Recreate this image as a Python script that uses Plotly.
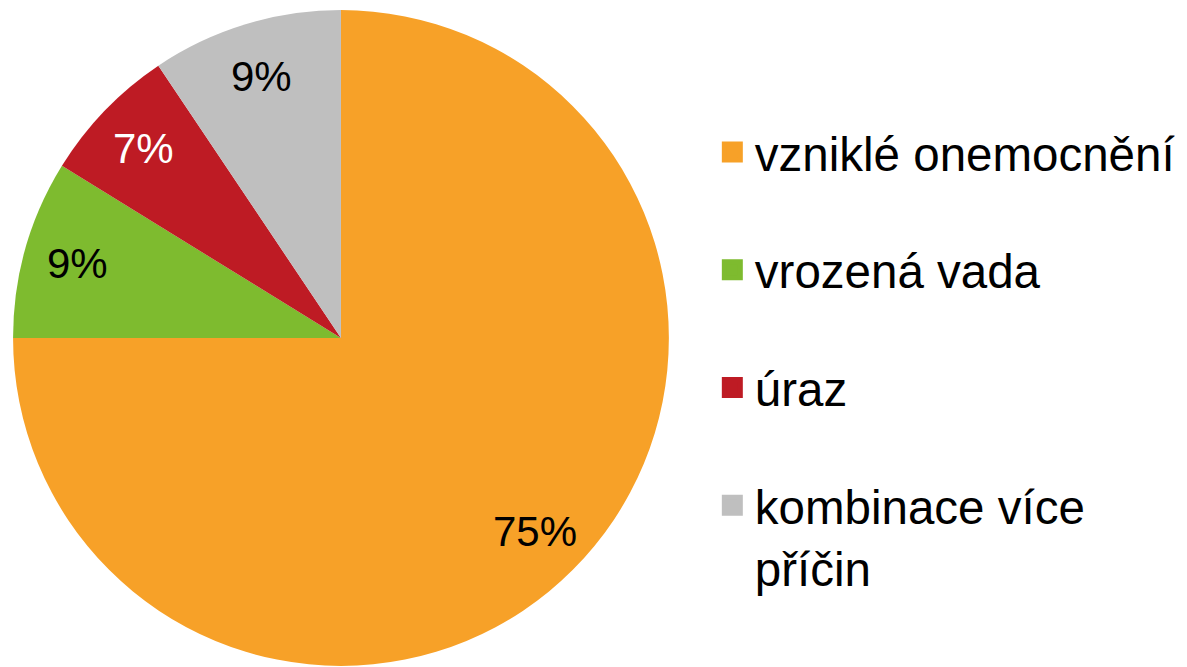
import math
import plotly.graph_objects as go

# ---- data ----
categories = ["vzniklé onemocnění", "vrozená vada", "úraz", "kombinace více<br>příčin"]
shares = [75.0, 8.8, 6.8, 9.4]

# ---- style ----
colors = ["#F7A128", "#7EBB2F", "#BE1B24", "#BFBFBF"]
label_colors = ["#000000", "#000000", "#FFFFFF", "#000000"]
FONT = "Liberation Sans, Arial, sans-serif"
W, H = 1187, 667
dom_x = [0.011, 0.5635]
dom_y = [0.0015, 0.985]

fig = go.Figure()
fig.add_trace(go.Pie(
    labels=categories, values=shares, sort=False, direction="clockwise",
    rotation=0, marker=dict(colors=colors, line=dict(width=0)),
    textinfo="none", showlegend=False, hoverinfo="label+percent",
    domain=dict(x=dom_x, y=dom_y),
))

# legend entries (one group per category so spacing can be controlled)
for cat, col in zip(categories, colors):
    fig.add_trace(go.Scatter(
        x=[None], y=[None], mode="markers", name=cat, legendgroup=cat,
        marker=dict(symbol="square", size=16, color=col, line=dict(width=5, color=col)),
    ))

# percentage labels, placed at the mid-angle of each slice
total = sum(shares)
cx = (dom_x[0] + dom_x[1]) / 2 * W
cy = (1 - (dom_y[0] + dom_y[1]) / 2) * H
r = min((dom_x[1] - dom_x[0]) * W, (dom_y[1] - dom_y[0]) * H) / 2
cum = 0.0
for v, tc in zip(shares, label_colors):
    mid = (cum + v / 2) / total * 2 * math.pi
    cum += v
    px = cx + 0.835 * r * math.sin(mid)
    py = cy - 0.835 * r * math.cos(mid)
    fig.add_annotation(
        x=px / W, y=1 - py / H, xref="paper", yref="paper",
        xanchor="center", yanchor="middle",
        text=f"{round(v / total * 100)}%", showarrow=False,
        font=dict(family=FONT, size=42, color=tc),
    )

fig.update_layout(
    width=W, height=H, margin=dict(l=0, r=0, t=0, b=0),
    paper_bgcolor="white", plot_bgcolor="white",
    xaxis=dict(visible=False), yaxis=dict(visible=False),
    font=dict(family=FONT, color="#000000"),
    legend=dict(
        x=0.598, xanchor="left", y=0.828, yanchor="top",
        font=dict(family=FONT, size=47.5, color="#000000"),
        tracegroupgap=53, valign="top", itemwidth=35,
        bgcolor="rgba(0,0,0,0)",
    ),
)

fig.write_html(
    "out.html",
    config={"displayModeBar": False},
    post_script="document.body.style.margin='0';document.body.style.overflow='hidden';",
)
